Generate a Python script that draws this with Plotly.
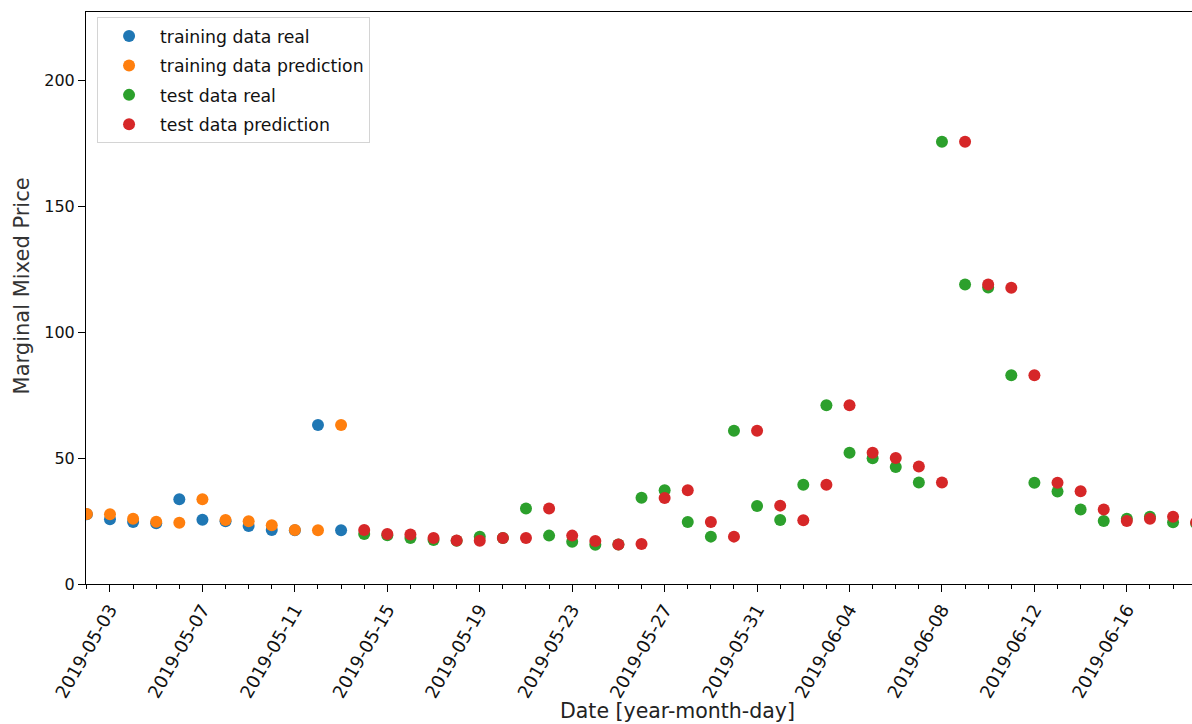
import pandas as pd
import plotly.graph_objects as go

# Daily marginal mixed price: training period and test period
train_dates = pd.date_range("2019-05-02", "2019-05-13", freq="D")
train_real = [27.7, 25.7, 24.6, 24.1, 33.6, 25.5, 24.9, 23.0, 21.4, 21.3, 63.1, 21.3]
train_pred = [27.8, 27.7, 25.9, 24.7, 24.3, 33.6, 25.4, 24.9, 23.3, 21.4, 21.3, 63.1]

test_dates = pd.date_range("2019-05-14", "2019-06-19", freq="D")
test_real = [19.8, 19.3, 18.3, 17.5, 17.2, 18.8, 18.3, 30.0, 19.2, 16.8, 15.6, 15.7,
             34.2, 37.2, 24.6, 18.8, 60.8, 31.0, 25.4, 39.4, 70.9, 52.1, 49.9, 46.4,
             40.3, 175.5, 118.9, 117.7, 82.8, 40.2, 36.7, 29.6, 25.0, 25.9, 26.7, 24.5,
             24.0]
test_pred = [21.4, 19.8, 19.6, 18.3, 17.3, 17.2, 18.3, 18.3, 30.0, 19.2, 17.1, 15.7,
             15.9, 34.1, 37.2, 24.6, 18.8, 60.8, 31.1, 25.3, 39.4, 70.9, 52.1, 50.0,
             46.6, 40.3, 175.5, 118.9, 117.6, 82.8, 40.2, 36.8, 29.6, 25.0, 25.9, 26.7,
             24.5]

y_ticks = [0, 50, 100, 150, 200]

FONT = "DejaVu Sans"
series = [
    ("training data real", train_dates, train_real, "#1f77b4"),
    ("training data prediction", train_dates, train_pred, "#ff7f0e"),
    ("test data real", test_dates, test_real, "#2ca02c"),
    ("test data prediction", test_dates, test_pred, "#d62728"),
]

fig = go.Figure()
for i, (name, xs, ys, color) in enumerate(series):
    fig.add_trace(go.Scatter(
        x=xs, y=ys, mode="markers", name=name, legendgroup=f"g{i}",
        marker=dict(size=12, color=color, line=dict(width=0)),
        cliponaxis=True,
    ))

fig.update_layout(
    width=1192, height=724,
    margin=dict(l=86, r=0, t=12, b=140),
    paper_bgcolor="white", plot_bgcolor="white",
    font=dict(family=FONT, size=16, color="#111"),
    showlegend=True,
    legend=dict(
        x=0.01, y=0.991, xanchor="left", yanchor="top",
        bgcolor="white", bordercolor="#d4d4d4", borderwidth=1,
        font=dict(family=FONT, size=17.3, color="#111"),
        tracegroupgap=4, itemwidth=52,
    ),
    annotations=[
        dict(
            text="Date [year-month-day]", xref="x domain", yref="paper",
            x=0.535, y=-0.222, xanchor="center", yanchor="middle", showarrow=False,
            font=dict(family=FONT, size=20.5, color="#222"),
        ),
        dict(
            text="Marginal Mixed Price", xref="paper", yref="paper",
            x=-0.0579, y=0.522, xanchor="center", yanchor="middle", showarrow=False,
            textangle=-90,
            font=dict(family=FONT, size=21, color="#333"),
        ),
    ],
)

fig.update_xaxes(
    type="date",
    range=["2019-05-01 23:05", "2019-06-18 19:40"],
    tickformat="%Y-%m-%d", tick0="2019-05-03", dtick=4 * 86400000,
    tickangle=-60, ticks="outside", ticklen=7, tickcolor="black", tickwidth=1,
    minor=dict(dtick=86400000, tick0="2019-05-03", ticks="outside", ticklen=4,
               tickcolor="black", tickwidth=1, showgrid=False),
    showline=True, linecolor="black", linewidth=1, mirror=True,
    showgrid=False, zeroline=False,
    tickfont=dict(family=FONT, size=18, color="#111"),
)
fig.update_yaxes(
    range=[0, 227], tickvals=y_ticks,
    ticks="outside", ticklen=7, tickcolor="black", tickwidth=1,
    showline=True, linecolor="black", linewidth=1,
    showgrid=False, zeroline=False,
    tickfont=dict(family=FONT, size=16, color="#111"),
)

fig.write_html("out.html")
